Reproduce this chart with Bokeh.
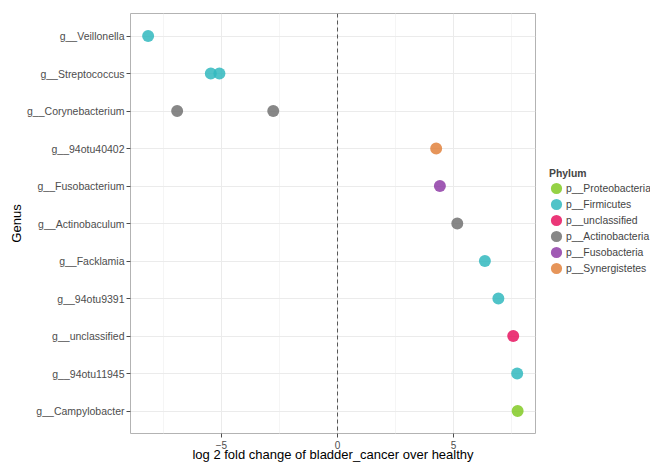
from bokeh.plotting import figure
from bokeh.layouts import row
from bokeh.models import (ColumnDataSource, FactorRange, Range1d, FixedTicker, Span,
                          Legend, LegendItem)
from bokeh.embed import file_html
from bokeh.resources import INLINE

# ---- data ----
genera_top_to_bottom = ["g__Veillonella", "g__Streptococcus", "g__Corynebacterium",
                        "g__94otu40402", "g__Fusobacterium", "g__Actinobaculum",
                        "g__Facklamia", "g__94otu9391", "g__unclassified",
                        "g__94otu11945", "g__Campylobacter"]
point_genus = ["g__Veillonella", "g__Streptococcus", "g__Streptococcus",
               "g__Corynebacterium", "g__Corynebacterium", "g__94otu40402",
               "g__Fusobacterium", "g__Actinobaculum", "g__Facklamia",
               "g__94otu9391", "g__unclassified", "g__94otu11945", "g__Campylobacter"]
point_log2fc = [-8.16, -5.46, -5.09, -6.91, -2.77, 4.25, 4.41, 5.16, 6.35, 6.93,
                7.57, 7.74, 7.76]
point_phylum = ["p__Firmicutes", "p__Firmicutes", "p__Firmicutes",
                "p__Actinobacteria", "p__Actinobacteria", "p__Synergistetes",
                "p__Fusobacteria", "p__Actinobacteria", "p__Firmicutes",
                "p__Firmicutes", "p__unclassified", "p__Firmicutes",
                "p__Proteobacteria"]
phyla = ["p__Proteobacteria", "p__Firmicutes", "p__unclassified",
         "p__Actinobacteria", "p__Fusobacteria", "p__Synergistetes"]
phylum_colors = ["#83ca25", "#31b8be", "#e71460", "#727272", "#8f3da7", "#e2833d"]
x_ticks = [-5, 0, 5]
x_minor = [-7.5, -2.5, 2.5, 7.5]

FONT = "Liberation Sans"

y_range = FactorRange(factors=list(reversed(genera_top_to_bottom)),
                      range_padding=0.1, range_padding_units="absolute")

p = figure(width=536, height=464, output_backend="svg", toolbar_location=None,
           y_range=y_range, x_range=Range1d(-8.92, 8.53),
           min_border_left=130, min_border_top=13, min_border_bottom=31,
           min_border_right=1)

p.background_fill_color = "white"
p.border_fill_color = "white"
p.outline_line_color = "#b3b3b3"
p.outline_line_width = 1

# grids
p.xgrid.ticker = FixedTicker(ticks=x_ticks, minor_ticks=x_minor)
p.xaxis.ticker = FixedTicker(ticks=x_ticks, minor_ticks=x_minor)
p.xgrid.grid_line_color = "#ebebeb"
p.xgrid.minor_grid_line_color = "#f5f5f5"
p.ygrid.grid_line_color = "#ebebeb"

for ax in (p.xaxis, p.yaxis):
    ax.axis_line_color = None
    ax.major_tick_line_color = "#4d4d4d"
    ax.major_tick_out = 4
    ax.major_tick_in = 0
    ax.minor_tick_line_color = None
    ax.major_label_text_font = FONT
    ax.major_label_text_font_size = "10px"
    ax.major_label_text_color = "#4d4d4d"
    ax.axis_label_text_font = FONT
    ax.axis_label_text_font_size = "13px"
    ax.axis_label_text_font_style = "normal"
    ax.axis_label_text_color = "black"

p.yaxis.major_label_text_font_size = "10.5px"
p.xaxis.axis_label = "log 2 fold change of bladder_cancer over healthy"
p.yaxis.axis_label = "Genus"
p.xaxis.major_label_standoff = 3
try:
    p.xaxis.axis_label_standoff = -5
except Exception:
    p.xaxis.axis_label_standoff = 0
p.yaxis.major_label_standoff = 2
p.yaxis.axis_label_standoff = 0

# dashed zero line
p.add_layout(Span(location=0, dimension="height", line_color="#555555",
                  line_dash="4 3", line_width=1))

# legend panel (a second, axis-less figure sharing the same data)
q = figure(width=114, height=464, output_backend="svg", toolbar_location=None,
           x_axis_type=None, y_axis_type=None, y_range=y_range,
           x_range=Range1d(100, 101), min_border=0)
q.outline_line_color = None
q.background_fill_color = "white"
q.border_fill_color = "white"

items = []
for ph, col in zip(phyla, phylum_colors):
    xs = [x for x, g in zip(point_log2fc, point_phylum) if g == ph]
    ys = [y for y, g in zip(point_genus, point_phylum) if g == ph]
    src = ColumnDataSource(dict(x=xs, y=ys))
    style = dict(width=12, height=12, width_units="screen", height_units="screen",
                 source=src, fill_color=col, fill_alpha=0.85, line_color=None)
    p.ellipse(x="x", y="y", **style)
    r = q.ellipse(x="x", y="y", **style)
    items.append(LegendItem(label=ph, renderers=[r]))

legend = Legend(items=items, title="Phylum", location=(13, 158),
                border_line_color=None, background_fill_alpha=0,
                label_text_font=FONT, label_text_font_size="10.4px",
                title_text_font=FONT, title_text_font_size="10.4px",
                title_text_font_style="bold", title_standoff=2,
                glyph_width=14, glyph_height=14, label_height=14,
                spacing=2, padding=0, margin=0, label_standoff=3)
q.add_layout(legend)

open("out.html", "w").write(file_html(row(p, q), INLINE))
